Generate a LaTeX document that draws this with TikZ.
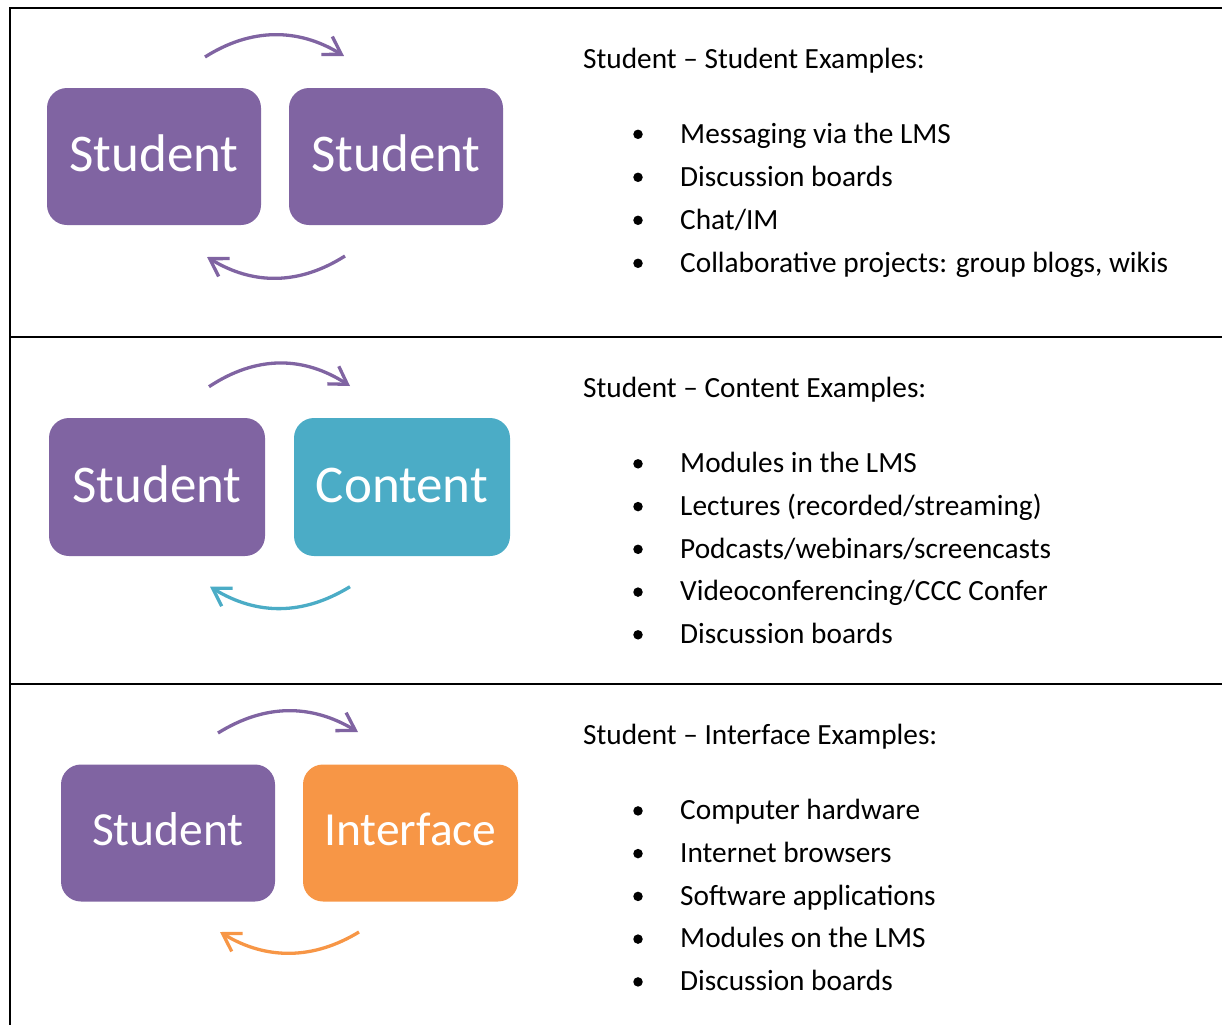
\documentclass[tikz,border=0pt]{standalone}
\usepackage{fontspec}
\setmainfont{Carlito}
\usetikzlibrary{arrows.meta}
\definecolor{cpurple}{HTML}{8064A2}
\definecolor{cteal}{HTML}{4BACC6}
\definecolor{corange}{HTML}{F79646}
\tikzset{
  box/.style={rounded corners=20pt, inner sep=0pt, text=white, minimum width=214pt, minimum height=137pt, text height=30pt, text depth=0pt, font=\fontsize{53}{60}\selectfont},
  smallbox/.style={box, text height=25pt, font=\fontsize{47.5}{55}\selectfont},
  arr/.style={line width=3.3pt, -{Straight Barb[length=17pt,width=21pt,line width=3.3pt]}},
  rule/.style={line width=2.2pt, black},
  itm/.style={anchor=base west, inner sep=0pt, font=\fontsize{29.3}{35}\selectfont},
  bul/.style={circle, fill=black, inner sep=0pt, minimum size=9.5pt}
}
\begin{document}
\begin{tikzpicture}[x=1pt,y=-1pt]
\useasboundingbox (0,0) rectangle (1222,1025);
% table rules
\coordinate (tl) at (10,8);
\coordinate (tr) at (1222,8);
\coordinate (bl) at (10,1025);
\coordinate (m1l) at (10,337);
\coordinate (m1r) at (1222,337);
\coordinate (m2l) at (10,684);
\coordinate (m2r) at (1222,684);
\draw[rule] (tr) -- (tl) -- (bl);
\draw[rule] (m1l) -- (m1r);
\draw[rule] (m2l) -- (m2r);

% ---------- row 1
\node[box, fill=cpurple] (s1a) at (154,156.5) {Student};
\node[box, fill=cpurple] (s1b) at (396,156.5) {Student};
\coordinate (a1s) at (205,57);
\coordinate (a1e) at (344,56);
\coordinate (b1s) at (345,256);
\coordinate (b1e) at (207,257);
\draw[arr, cpurple] (a1s) .. controls (251,27.8) and (298,27.8) .. (a1e);
\draw[arr, cpurple] (b1s) .. controls (299,285.2) and (253,285.2) .. (b1e);

\node[itm] (h1) at (583,68.8) {Student – Student Examples:};
\node[bul] (p11) at (638,134.3) {}; \node[itm] (t11) at (680,143) {Messaging via the LMS};
\node[bul] (p12) at (638,177.3) {}; \node[itm] (t12) at (680,186) {Discussion boards};
\node[bul] (p13) at (638,220.3) {}; \node[itm] (t13) at (680,229) {Chat/IM};
\node[bul] (p14) at (638,263.3) {}; \node[itm] (t14) at (680,272) {Collaborative projects: group blogs, wikis};

% ---------- row 2
\node[box, fill=cpurple, minimum width=216pt, minimum height=138pt] (s2a) at (157,487) {Student};
\node[box, fill=cteal, minimum width=216pt, minimum height=138pt] (c2) at (402,487) {Content};
\coordinate (a2s) at (209,386.7);
\coordinate (a2e) at (350,386);
\coordinate (b2s) at (350,586.7);
\coordinate (b2e) at (210,586.7);
\draw[arr, cpurple] (a2s) .. controls (256,355.6) and (303,355.6) .. (a2e);
\draw[arr, cteal] (b2s) .. controls (303,615.5) and (257,615.5) .. (b2e);

\node[itm] (h2) at (583,397.8) {Student – Content Examples:};
\node[bul] (p21) at (638,463.8) {}; \node[itm] (t21) at (680,472.5) {Modules in the LMS};
\node[bul] (p22) at (638,506.6) {}; \node[itm] (t22) at (680,515.3) {Lectures (recorded/streaming)};
\node[bul] (p23) at (638,549.3) {}; \node[itm] (t23) at (680,558) {Podcasts/webinars/screencasts};
\node[bul] (p24) at (638,592.1) {}; \node[itm] (t24) at (680,600.8) {Videoconferencing/CCC Confer};
\node[bul] (p25) at (638,634.8) {}; \node[itm] (t25) at (680,643.5) {Discussion boards};

% ---------- row 3
\node[smallbox, fill=cpurple] (s3a) at (168,833) {Student};
\node[smallbox, fill=corange, minimum width=215pt] (i3) at (410.5,833) {Interface};
\coordinate (a3s) at (218,733);
\coordinate (a3e) at (358,732);
\coordinate (b3s) at (359,932);
\coordinate (b3e) at (220,932);
\draw[arr, cpurple] (a3s) .. controls (265,703.8) and (311,703.8) .. (a3e);
\draw[arr, corange] (b3s) .. controls (313,960) and (266,960) .. (b3e);

\node[itm] (h3) at (583,744.8) {Student – Interface Examples:};
\node[bul] (p31) at (638,810.9) {}; \node[itm] (t31) at (680,819.6) {Computer hardware};
\node[bul] (p32) at (638,853.6) {}; \node[itm] (t32) at (680,862.3) {Internet browsers};
\node[bul] (p33) at (638,896.4) {}; \node[itm] (t33) at (680,905.1) {Software applications};
\node[bul] (p34) at (638,939.1) {}; \node[itm] (t34) at (680,947.8) {Modules on the LMS};
\node[bul] (p35) at (638,981.9) {}; \node[itm] (t35) at (680,990.6) {Discussion boards};
\end{tikzpicture}
\end{document}
